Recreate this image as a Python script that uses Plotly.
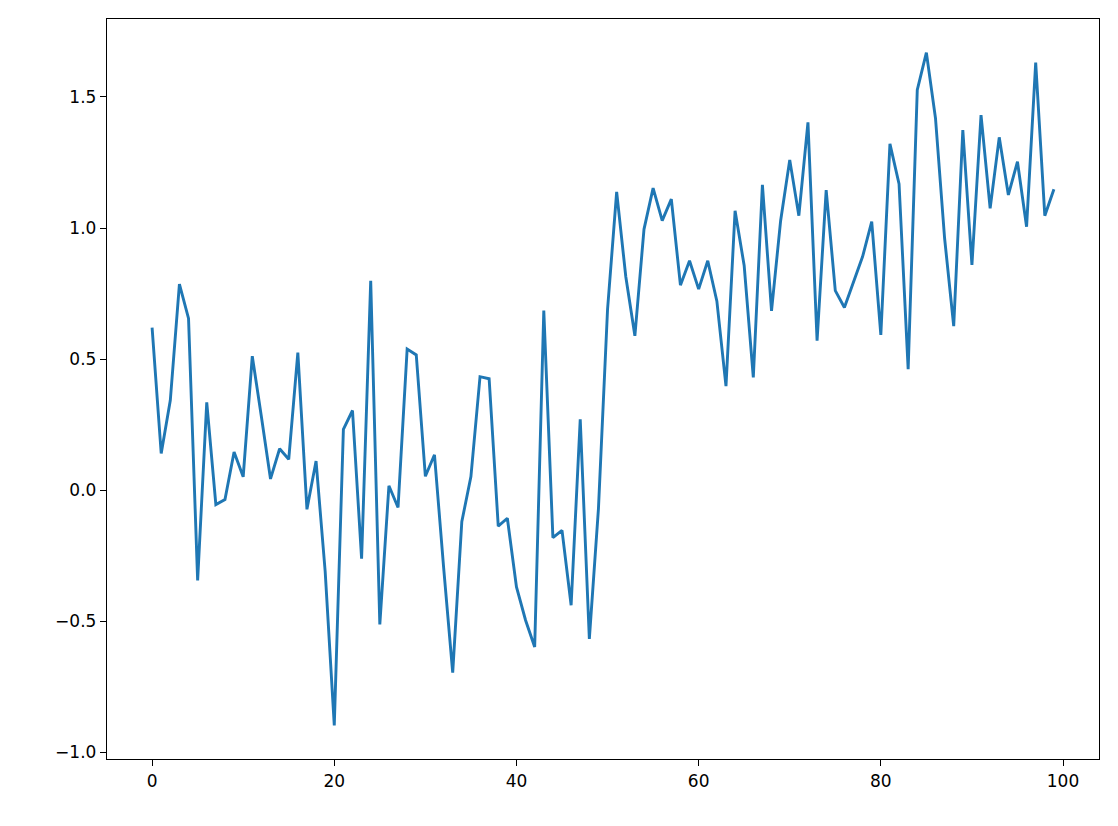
import plotly.graph_objects as go

x_index = list(range(100))
y_values = [
    0.62, 0.14, 0.343, 0.786, 0.655, -0.344, 0.335, -0.055, -0.036, 0.146,
    0.051, 0.511, 0.28, 0.043, 0.158, 0.118, 0.525, -0.073, 0.111, -0.31,
    -0.897, 0.232, 0.304, -0.261, 0.799, -0.512, 0.017, -0.066, 0.538, 0.516,
    0.053, 0.135, -0.293, -0.696, -0.12, 0.052, 0.433, 0.425, -0.137, -0.107,
    -0.369, -0.496, -0.598, 0.685, -0.181, -0.153, -0.439, 0.27, -0.567, -0.07,
    0.69, 1.138, 0.815, 0.589, 0.995, 1.152, 1.028, 1.11, 0.782, 0.875,
    0.767, 0.875, 0.721, 0.397, 1.066, 0.856, 0.43, 1.165, 0.684, 1.028,
    1.26, 1.047, 1.403, 0.57, 1.145, 0.761, 0.697, 0.795, 0.891, 1.024,
    0.592, 1.321, 1.168, 0.462, 1.527, 1.669, 1.419, 0.961, 0.626, 1.374,
    0.859, 1.431, 1.075, 1.346, 1.126, 1.253, 1.005, 1.631, 1.047, 1.148,
]
x_ticks = [0, 20, 40, 60, 80, 100]
y_ticks = [-1.0, -0.5, 0.0, 0.5, 1.0, 1.5]
y_tick_labels = ["\u22121.0", "\u22120.5", "0.0", "0.5", "1.0", "1.5"]

def padded(vals, frac=0.05):
    lo, hi = min(vals), max(vals)
    d = (hi - lo) * frac
    return [lo - d, hi + d]

fig = go.Figure()
fig.add_trace(go.Scatter(
    x=x_index, y=y_values, mode="lines",
    line=dict(color="#1f77b4", width=2.9),
    showlegend=False,
))

axis_common = dict(
    showline=True, linecolor="black", linewidth=1.4, mirror=True,
    ticks="outside", ticklen=6, tickwidth=1.4, tickcolor="black",
    showgrid=False, zeroline=False,
    tickfont=dict(family="DejaVu Sans", size=17, color="black"),
)

# the page body adds an 8px offset; margins compensate for it
fig.update_layout(
    width=1118, height=826,
    margin=dict(l=99, r=27, t=11, b=75),
    paper_bgcolor="white", plot_bgcolor="white",
    xaxis=dict(range=padded(x_index), tickvals=x_ticks,
               ticktext=[str(v) for v in x_ticks], **axis_common),
    yaxis=dict(range=padded(y_values), tickvals=y_ticks,
               ticktext=y_tick_labels, **axis_common),
)

fig.write_html("out.html")
